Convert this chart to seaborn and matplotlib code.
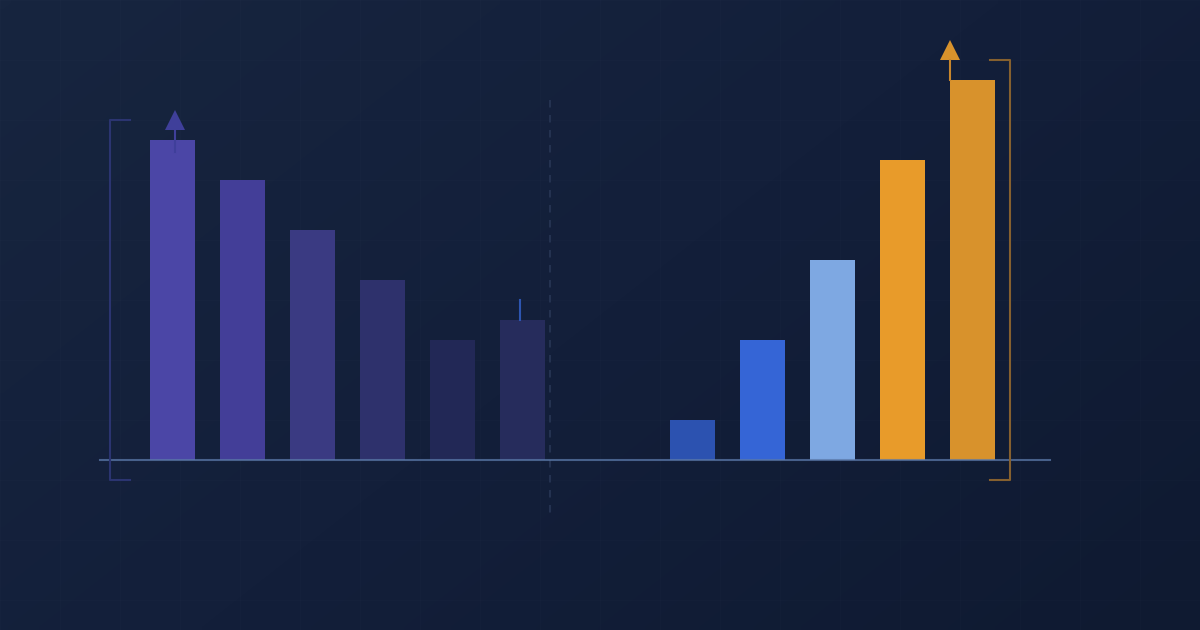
import numpy as np
import pandas as pd
import seaborn as sns
import matplotlib.pyplot as plt
from matplotlib.colors import LinearSegmentedColormap

# bar values (baseline = 0)
left_labels = ['a1', 'a2', 'a3', 'a4', 'a5', 'a6']
left_values = [320, 280, 230, 180, 120, 140]
left_colors = ['#4b46a6', '#433e98', '#3a3a82', '#2e316c', '#222856', '#262c5c']

right_labels = ['b1', 'b2', 'b3', 'b4', 'b5']
right_values = [40, 120, 200, 300, 380]
right_colors = ['#2c52b0', '#3565d6', '#7ea8e2', '#e89b2a', '#d8922c']

W, H = 1200, 630
fig = plt.figure(figsize=(12, 6.3), dpi=100)

# background gradient + faint grid
bg = fig.add_axes([0, 0, 1, 1], zorder=0)
xx, yy = np.meshgrid(np.linspace(0, 1, 200), np.linspace(0, 1, 100))
grad = (xx * 0.6 + yy * 0.4)
cmap = LinearSegmentedColormap.from_list('bg', ['#17253f', '#131f3a', '#0f1a31'])
bg.imshow(grad, extent=[0, W, H, 0], cmap=cmap, aspect='auto', interpolation='bilinear')
for gx in range(0, W, 60):
    bg.axvline(gx, color='white', alpha=0.013, lw=1)
for gy in range(0, H, 60):
    bg.axhline(gy, color='white', alpha=0.013, lw=1)
bg.set_xlim(0, W)
bg.set_ylim(H, 0)
bg.axis('off')

# bar axes share the same vertical scale (1 unit = 1 px, baseline at y=460)
ymin, ymax = -(H - 460), 460
bar_w = 45 / 70


def bar_axes(rect, labels, values, colors):
    ax = fig.add_axes(rect, zorder=1)
    ax.patch.set_alpha(0)
    df = pd.DataFrame({'cat': labels, 'val': values})
    sns.barplot(data=df, x='cat', y='val', hue='cat', palette=colors,
                width=bar_w, saturation=1, legend=False, linewidth=0, ax=ax)
    ax.set_xlim(-0.5, len(labels) - 0.5)
    ax.set_ylim(ymin, ymax)
    ax.axis('off')
    return ax


axl = bar_axes([137.5 / W, 0, 420 / W, 1], left_labels, left_values, left_colors)
axr = bar_axes([657.5 / W, 0, 350 / W, 1], right_labels, right_values, right_colors)

# markers on bars
px = 1 / 70  # one pixel in category units
v0 = left_values[0]
axl.plot([2.5 * px, 2.5 * px], [v0 - 12, v0 + 10], color='#3f3f9a', lw=1.5)
axl.fill([2.5 * px - 10 * px, 2.5 * px + 10 * px, 2.5 * px], [v0 + 10, v0 + 10, v0 + 30],
         color='#3f3f9a', lw=0)
v5 = left_values[5]
axl.plot([5 - 2.5 * px, 5 - 2.5 * px], [v5, v5 + 20], color='#2d55b0', lw=1.5)

vr = right_values[-1]
xr = 4 - bar_w / 2
axr.plot([xr, xr], [vr, vr + 20], color='#c8862c', lw=1.5)
axr.fill([xr - 10 * px, xr + 10 * px, xr], [vr + 20, vr + 20, vr + 40], color='#d8922c', lw=0)

# overlay: baseline, separator, brackets
top = fig.add_axes([0, 0, 1, 1], zorder=2)
top.patch.set_alpha(0)
top.set_xlim(0, W)
top.set_ylim(H, 0)
top.axis('off')
top.plot([549.5, 549.5], [100, 515], color='#243250', lw=1.5, dashes=(3.6, 3.6))
top.plot([100, 1050], [460, 460], color='#5a78a8', alpha=0.75, lw=1.5)
top.plot([130, 110, 110, 130], [120, 120, 480, 480], color='#2b3470', lw=1.5)
top.plot([990, 1010, 1010, 990], [60, 60, 480, 480], color='#85602f', lw=1.5)

fig.savefig('out.png', dpi=100)
